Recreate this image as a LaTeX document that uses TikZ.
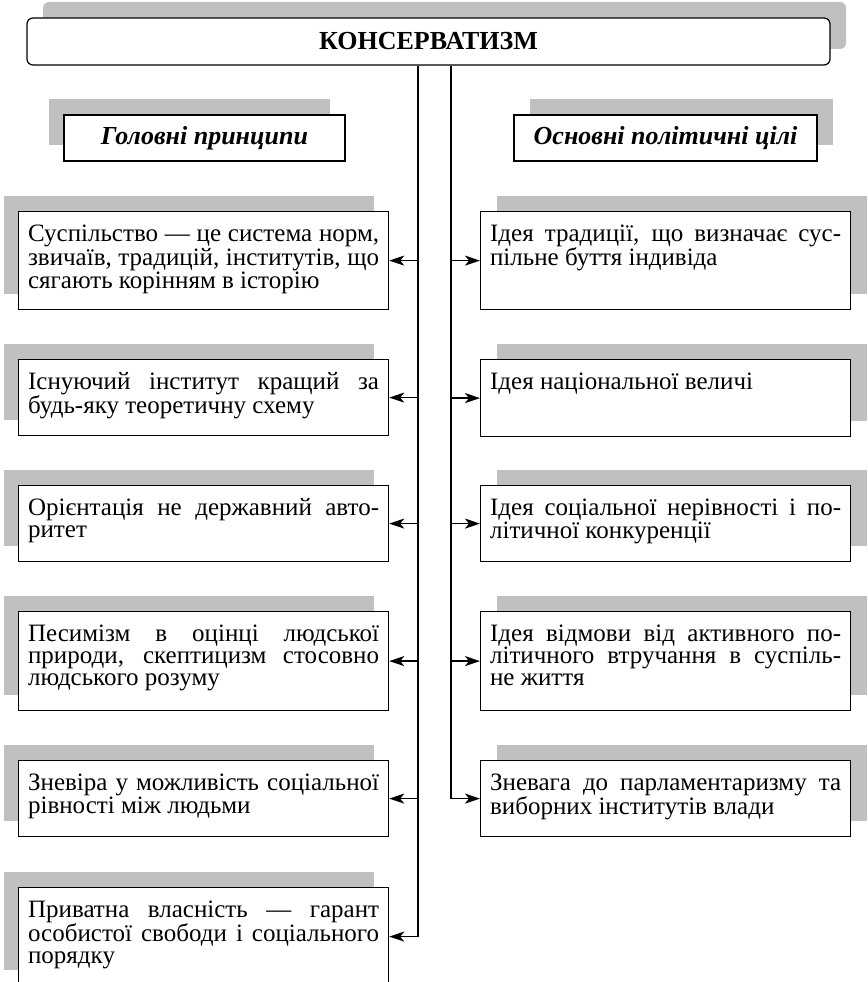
\documentclass[tikz,border=0pt]{standalone}
\usepackage{fontspec}
\setmainfont{Liberation Serif}
\usetikzlibrary{arrows.meta,shadows}
\definecolor{shadegray}{RGB}{192,192,192}
\newcommand{\boxtxt}[2]{\parbox[t][#1pt][t]{351pt}{\tolerance=10000\hbadness=10000\rule{0pt}{30pt}#2}}

\begin{document}
\begin{tikzpicture}[x=1pt,y=-1pt,
  every node/.style={font=\fontsize{25}{21.8}\selectfont},
  frame/.style={draw, line width=1.2pt, fill=white},
  lshade/.style={general shadow={fill=shadegray, shadow xshift=-15pt, shadow yshift=16pt}},
  rshade/.style={general shadow={fill=shadegray, shadow xshift=16pt, shadow yshift=16pt}},
  cellbox/.style={frame, anchor=north west, inner xsep=9.5pt, inner ysep=0pt},
  headbox/.style={frame, inner sep=0pt, font=\fontsize{26}{21.8}\selectfont\bfseries\itshape},
  trunk/.style={line width=1.3pt},
  link/.style={line width=1.7pt, -{Stealth[length=15pt,width=10pt,inset=4pt]}}
]
\useasboundingbox (0,0) rectangle (867,982);

\node[frame, rshade, rounded corners=6pt, minimum width=803pt, minimum height=47pt, inner sep=0pt,
  font=\fontsize{26}{21.8}\selectfont\bfseries] (title) at (428.5,41.5) {КОНСЕРВАТИЗМ};

\node[headbox, lshade, minimum width=281pt, minimum height=46pt] (lhead) at (204.5,138) {Головні принципи};
\node[headbox, rshade, minimum width=303pt, minimum height=46pt] (rhead) at (665.5,138) {Основні політичні цілі};

\node[cellbox, lshade] (p1) at (18,211) {\boxtxt{98}{Суспільство — це система норм,\linebreak звичаїв, традицій, інститутів, що\linebreak сягають корінням в історію}};
\node[cellbox, lshade] (p2) at (18,359) {\boxtxt{76}{Існуючий інститут кращий за\linebreak будь-яку теоретичну схему}};
\node[cellbox, lshade] (p3) at (18,485) {\boxtxt{76}{Орієнтація не державний авто-\linebreak ритет}};
\node[cellbox, lshade] (p4) at (18,611) {\boxtxt{99}{Песимізм в оцінці людської\linebreak природи, скептицизм стосовно\linebreak людського розуму}};
\node[cellbox, lshade] (p5) at (18,760) {\boxtxt{76}{Зневіра у можливість соціальної\linebreak рівності між людьми}};
\node[cellbox, lshade] (p6) at (18,887) {\boxtxt{98}{Приватна власність — гарант\linebreak особистої свободи і соціального\linebreak порядку}};

\node[cellbox, rshade] (g1) at (480,211) {\boxtxt{98}{Ідея традиції, що визначає сус-\linebreak пільне буття індивіда}};
\node[cellbox, rshade] (g2) at (480,359) {\boxtxt{77}{Ідея національної величі}};
\node[cellbox, rshade] (g3) at (480,485) {\boxtxt{76}{Ідея соціальної нерівності і по-\linebreak літичної конкуренції}};
\node[cellbox, rshade] (g4) at (480,611) {\boxtxt{99}{Ідея відмови від активного по-\linebreak літичного втручання в суспіль-\linebreak не життя}};
\node[cellbox, rshade] (g5) at (480,760) {\boxtxt{76}{Зневага до парламентаризму та\linebreak виборних інститутів влади}};

\coordinate (ltr) at (418,0);
\coordinate (rtr) at (451,0);
\draw[trunk] (ltr |- title.south) -- (ltr |- p6.east);
\draw[trunk] (rtr |- title.south) -- (rtr |- g5.west);
\foreach \n in {1,...,6}
  \draw[link] (ltr |- p\n.east) -- (p\n.east);
\foreach \n in {1,...,5}
  \draw[link] (rtr |- g\n.west) -- (g\n.west);
\end{tikzpicture}
\end{document}
